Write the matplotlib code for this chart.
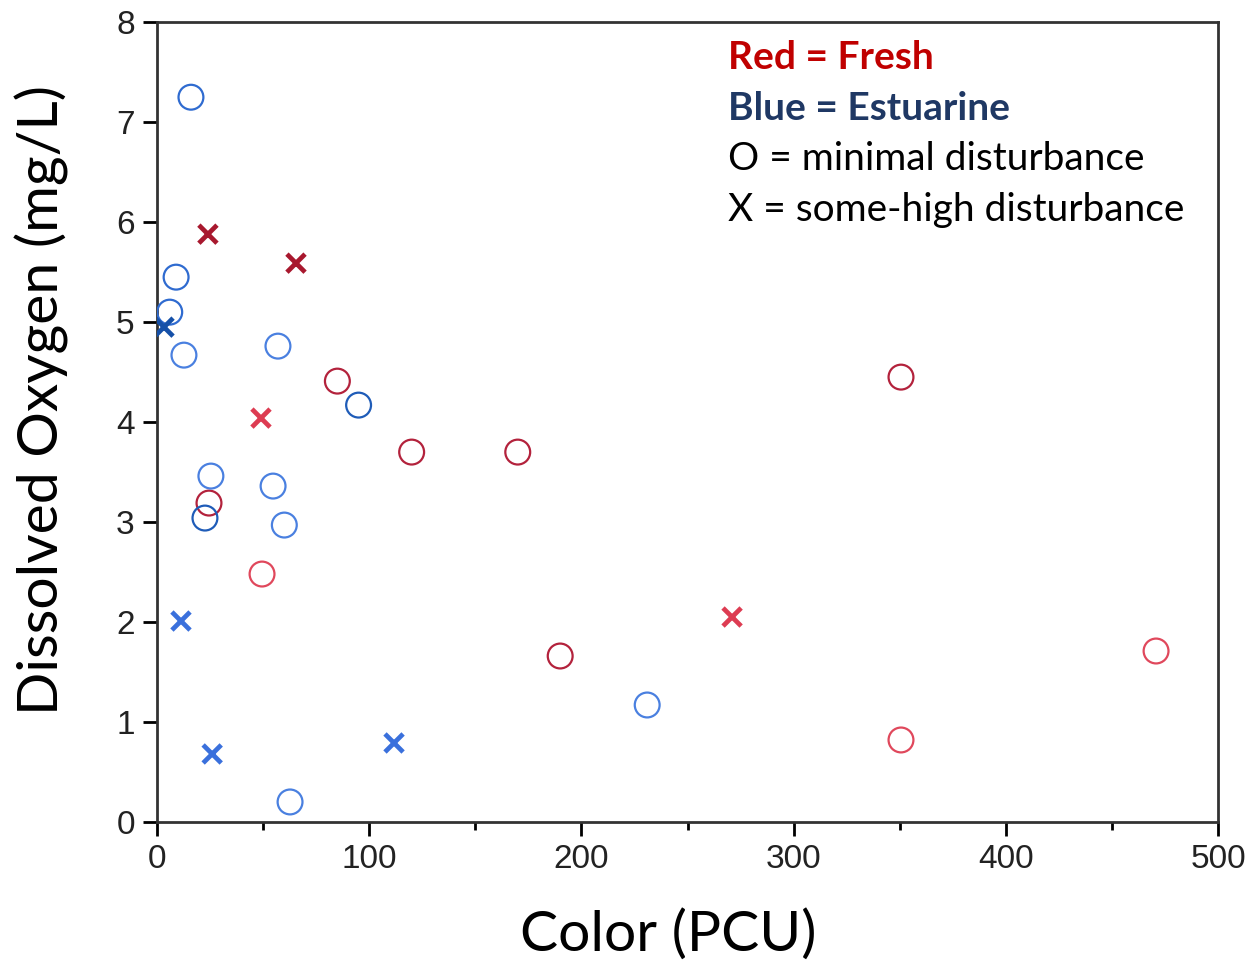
import matplotlib.pyplot as plt
from matplotlib.ticker import MultipleLocator

# data
fresh_o_x = [85, 24.5, 49.5, 120, 170, 190, 350.6, 350.6, 470.8]
fresh_o_y = [4.41, 3.19, 2.48, 3.70, 3.70, 1.66, 4.45, 0.82, 1.71]
fresh_o_c = ['#b3223c', '#b3223c', '#e0485c', '#b3223c', '#b3223c', '#b3223c', '#b3223c', '#e0485c', '#e0485c']

fresh_x_x = [24, 65.5, 49, 271]
fresh_x_y = [5.88, 5.59, 4.04, 2.05]
fresh_x_c = ['#a8182e', '#a8182e', '#dd3c52', '#dd3c52']

est_o_x = [16, 9, 6, 12.7, 57, 95, 25.4, 54.7, 22.6, 60, 231, 62.7]
est_o_y = [7.25, 5.45, 5.10, 4.67, 4.76, 4.17, 3.46, 3.36, 3.04, 2.97, 1.17, 0.20]
est_o_c = ['#2f6bd0', '#2f6bd0', '#2f6bd0', '#4a80e0', '#4a80e0', '#1f5cb8', '#4a80e0',
           '#4a80e0', '#1f5cb8', '#4a80e0', '#4a80e0', '#4a80e0']

est_x_x = [3.3, 11.3, 26, 111.7]
est_x_y = [4.95, 2.01, 0.68, 0.79]
est_x_c = ['#1550a8', '#3a70dc', '#3a70dc', '#3a70dc']

legend_lines = ['Red = Fresh', 'Blue = Estuarine', 'O = minimal disturbance', 'X = some-high disturbance']
legend_colors = ['#c00000', '#1f3864', 'black', 'black']
legend_weights = ['bold', 'bold', 'normal', 'normal']

fig = plt.figure(figsize=(12.49, 9.67), dpi=100)
ax = fig.add_axes([0.1257, 0.150, 0.8495, 0.827])

ax.scatter(fresh_o_x, fresh_o_y, s=320, facecolors='none', edgecolors=fresh_o_c, linewidths=1.6, zorder=3)
ax.scatter(est_o_x, est_o_y, s=320, facecolors='none', edgecolors=est_o_c, linewidths=1.6, zorder=3)
ax.scatter(fresh_x_x, fresh_x_y, s=170, marker='x', c=fresh_x_c, linewidths=3.4, zorder=3)
ax.scatter(est_x_x, est_x_y, s=170, marker='x', c=est_x_c, linewidths=3.4, zorder=3)

ax.set_xlim(0, 500)
ax.set_ylim(0, 8)
ax.xaxis.set_major_locator(MultipleLocator(100))
ax.xaxis.set_minor_locator(MultipleLocator(50))
ax.yaxis.set_major_locator(MultipleLocator(1))
ax.tick_params(which='major', length=10, width=2, labelsize=24, pad=6, labelcolor='#222222')
ax.tick_params(which='minor', length=6, width=2)
for lab in ax.get_xticklabels() + ax.get_yticklabels():
    lab.set_family('Liberation Sans')
for sp in ax.spines.values():
    sp.set_linewidth(2)
    sp.set_color('#333333')

ax.set_xlabel('Color (PCU)', fontsize=41, family='Lato')
ax.set_ylabel('Dissolved Oxygen (mg/L)', fontsize=41, family='Lato')
ax.xaxis.set_label_coords(0.4816, -0.109)
ax.yaxis.set_label_coords(-0.083, 0.5275)

for i, txt in enumerate(legend_lines):
    ax.text(0.538, 0.956 - i * 0.0638, txt, transform=ax.transAxes, fontsize=28, family='Lato',
            color=legend_colors[i], fontweight=legend_weights[i], va='center', ha='left')

fig.savefig('out.png', dpi=100)
